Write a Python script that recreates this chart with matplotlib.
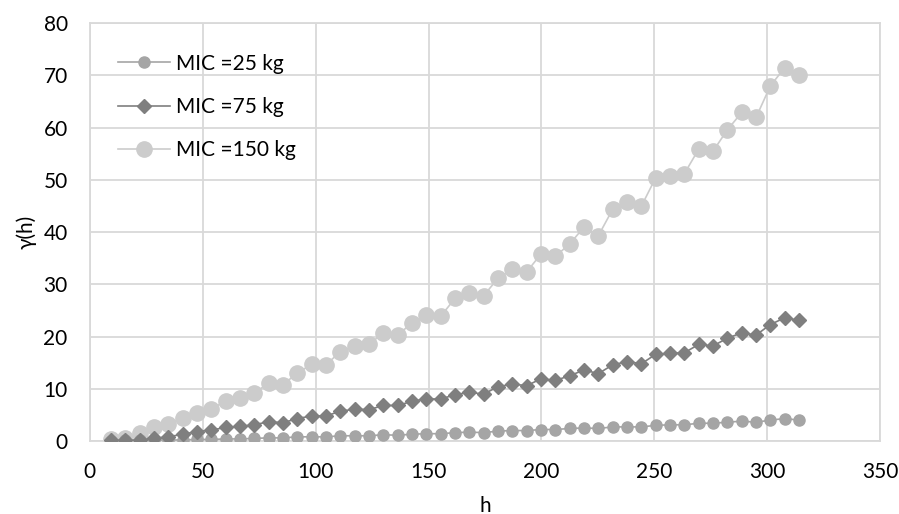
import matplotlib.pyplot as plt

plt.rcParams['font.family'] = ['Lato', 'DejaVu Sans']

# lag distance h
h = [9.3, 15.7, 22.0, 28.4, 34.7, 41.1, 47.4, 53.8, 60.1, 66.5,
     72.8, 79.2, 85.5, 91.9, 98.2, 104.6, 110.9, 117.3, 123.6, 130.0,
     136.3, 142.7, 149.0, 155.4, 161.7, 168.1, 174.4, 180.8, 187.1, 193.5,
     199.8, 206.2, 212.5, 218.9, 225.2, 231.6, 237.9, 244.3, 250.6, 257.0,
     263.3, 269.7, 276.0, 282.4, 288.7, 295.1, 301.4, 307.8, 314.1]

mic25 = [0.05, 0.1, 0.1, 0.1, 0.2, 0.2, 0.3, 0.3, 0.4, 0.4,
         0.5, 0.6, 0.6, 0.8, 0.8, 0.8, 1.0, 1.0, 1.0, 1.2,
         1.1, 1.3, 1.4, 1.4, 1.6, 1.7, 1.6, 1.9, 2.0, 2.0,
         2.2, 2.2, 2.4, 2.5, 2.4, 2.7, 2.7, 2.7, 3.0, 3.1,
         3.1, 3.4, 3.4, 3.6, 3.8, 3.6, 4.0, 4.3, 4.0]

mic75 = [0.1, 0.1, 0.2, 0.5, 0.8, 1.3, 1.8, 2.1, 2.6, 2.8,
         3.1, 3.7, 3.5, 4.3, 4.8, 4.8, 5.7, 6.1, 6.0, 6.8,
         6.8, 7.6, 8.1, 8.0, 8.9, 9.3, 9.0, 10.4, 10.9, 10.6,
         11.9, 11.6, 12.5, 13.6, 12.9, 14.6, 15.2, 14.8, 16.6, 16.8,
         16.9, 18.5, 18.2, 19.7, 20.7, 20.3, 22.3, 23.6, 23.1]

mic150 = [0.4, 0.6, 1.5, 2.7, 3.2, 4.4, 5.3, 6.1, 7.7, 8.3,
          9.2, 11.1, 10.8, 13.0, 14.7, 14.6, 17.1, 18.2, 18.5, 20.7,
          20.3, 22.6, 24.2, 23.9, 27.3, 28.3, 27.8, 31.2, 32.9, 32.4,
          35.8, 35.4, 37.7, 41.0, 39.3, 44.4, 45.7, 45.0, 50.4, 50.8,
          51.2, 55.9, 55.5, 59.6, 62.9, 62.0, 68.0, 71.5, 70.0]

fig = plt.figure(figsize=(8.99, 5.14), dpi=100)
ax = fig.add_axes([0.100, 0.142, 0.879, 0.813])

ax.plot(h, mic25, color='#A5A5A5', marker='o', markersize=8, lw=1.2, label='MIC =25 kg', zorder=3)
ax.plot(h, mic75, color='#7F7F7F', marker='D', markersize=7.5, lw=1.2, label='MIC =75 kg', zorder=4)
ax.plot(h, mic150, color='#CCCCCC', marker='o', markersize=11, lw=1.2, label='MIC =150 kg', zorder=2)

ax.set_xlim(0, 350)
ax.set_ylim(0, 80)
ax.set_xticks(range(0, 351, 50))
ax.set_yticks(range(0, 81, 10))
ax.grid(True, color='#D9D9D9', lw=1.3)
ax.set_axisbelow(True)
for s in ax.spines.values():
    s.set_color('#D9D9D9')
    s.set_linewidth(1.3)
ax.tick_params(length=0, labelsize=15, colors='#000000')
ax.tick_params(axis='x', pad=15)
ax.tick_params(axis='y', pad=16)

ax.set_xlabel('h', fontsize=15, labelpad=10)
ax.set_ylabel('γ(h)', fontsize=15, labelpad=5)

ax.legend(loc='upper left', bbox_to_anchor=(0.012, 0.972), frameon=False,
          fontsize=15, labelspacing=1.12, handlelength=2.5, handletextpad=0.3)

fig.savefig('out.png', dpi=100)
